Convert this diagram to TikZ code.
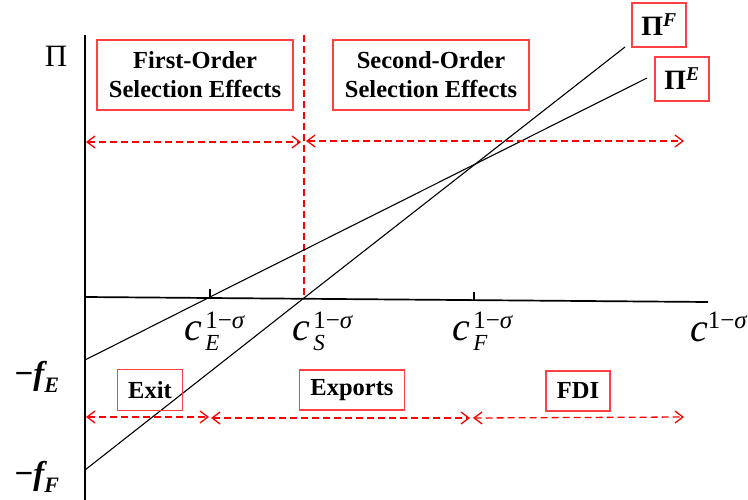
\documentclass[tikz,border=0pt]{standalone}
\usepackage{amsmath}
\usepackage{fontspec}
\setmainfont{Liberation Serif}
\usetikzlibrary{arrows.meta}
\newcommand{\COST}[1]{${\textit{c}\kern3pt}^{\raisebox{3pt}{\fontsize{25}{25}\selectfont 1−\textit{σ}}}_{\raisebox{-3pt}{\fontsize{23}{23}\selectfont\textit{#1}}}$}
\newcommand{\FIX}[1]{$\text{\bfseries −\itshape f}_{\text{\fontsize{22}{22}\selectfont\bfseries\itshape #1}}$}

\begin{document}
\begin{tikzpicture}[x=1pt,y=-1pt,
   box/.style={draw=red!75,line width=1.1pt,inner sep=0pt,align=center,
      font=\fontsize{24.5}{29}\selectfont\bfseries},
   region/.style={red,line width=1.3pt,dash pattern=on 7pt off 4pt,
      {Straight Barb[length=8pt,width=12pt]}-{Straight Barb[length=8pt,width=12pt]}},
   profit/.style={line width=1.1pt},
   costlabel/.style={font=\fontsize{40}{40}\selectfont,inner sep=0pt}]
   \useasboundingbox (0,0) rectangle (748,500);
   % axes
   \coordinate (top) at (85,35);
   \coordinate (bottom) at (85,500);
   \coordinate (origin) at (85,297);
   \coordinate (far) at (708,302);
   \draw[line width=1.7pt] (top) -- (bottom);
   \draw[line width=1.7pt] (origin) -- (far);
   % cutoffs on the axis
   \coordinate (cE) at (210,297);
   \coordinate (cS) at (304,298);
   \coordinate (cF) at (474,300);
   \draw[line width=1.3pt] (cE) -- ++(0,-8);
   \draw[line width=1.3pt] (cF) -- ++(0,-8);
   \coordinate (split) at (304,35);
   \draw[red,line width=1.3pt,dash pattern=on 7pt off 4pt] (split) -- (cS);
   % profit lines
   \coordinate (fE) at (85,360);
   \coordinate (fF) at (85,470);
   \coordinate (endE) at (647,78);
   \coordinate (endF) at (625,47);
   \draw[profit] (fE) -- (cE) -- (endE);
   \draw[profit] (fF) -- (cS) -- (endF);
   % labels
   \node (Pi) at (56,56) [font=\fontsize{31}{31}\selectfont] {Π};
   \node (first) at (195,75) [box,minimum width=196pt,minimum height=70pt] {First-Order\\Selection Effects};
   \node (second) at (431,75) [box,minimum width=196pt,minimum height=70pt] {Second-Order\\Selection Effects};
   \node (PiF) at (659,25) [box,minimum width=54pt,minimum height=44pt,font=\fontsize{28}{28}\selectfont\bfseries] {Π\textsuperscript{\itshape F}};
   \node (PiE) at (682,79) [box,minimum width=54pt,minimum height=44pt,font=\fontsize{28}{28}\selectfont\bfseries] {Π\textsuperscript{\itshape E}};
   \node (labE) at (215,331) [costlabel] {\COST{E}};
   \node (labS) at (323,331) [costlabel] {\COST{S}};
   \node (labF) at (483,331) [costlabel] {\COST{F}};
   \node (labc) at (719,327) [costlabel] {$\textit{c}^{\raisebox{3pt}{\fontsize{25}{25}\selectfont 1−\textit{σ}}}$};
   \node (minusE) at (37,377) [font=\fontsize{33}{33}\selectfont] {\FIX{E}};
   \node (minusF) at (37,477) [font=\fontsize{33}{33}\selectfont] {\FIX{F}};
   \node (exit) at (150,390) [box,minimum width=65pt,minimum height=41pt] {Exit};
   \node (exports) at (352,390) [box,minimum width=105pt,minimum height=40pt] {Exports};
   \node (fdi) at (578,391) [box,minimum width=64pt,minimum height=40pt] {FDI};
   % ranges
   \coordinate (t1) at (86,142);
   \coordinate (t2) at (301,142);
   \coordinate (t3) at (306,141);
   \coordinate (t4) at (684,141);
   \draw[region] (t1) -- (t2);
   \draw[region] (t3) -- (t4);
   \coordinate (b1) at (86,417);
   \coordinate (b2) at (209,417);
   \coordinate (b3) at (211,418);
   \coordinate (b4) at (470,418);
   \coordinate (b5) at (473,418);
   \coordinate (b6) at (684,417);
   \draw[region] (b1) -- (b2);
   \draw[region] (b3) -- (b4);
   \draw[region] (b5) -- (b6);
\end{tikzpicture}
\end{document}
